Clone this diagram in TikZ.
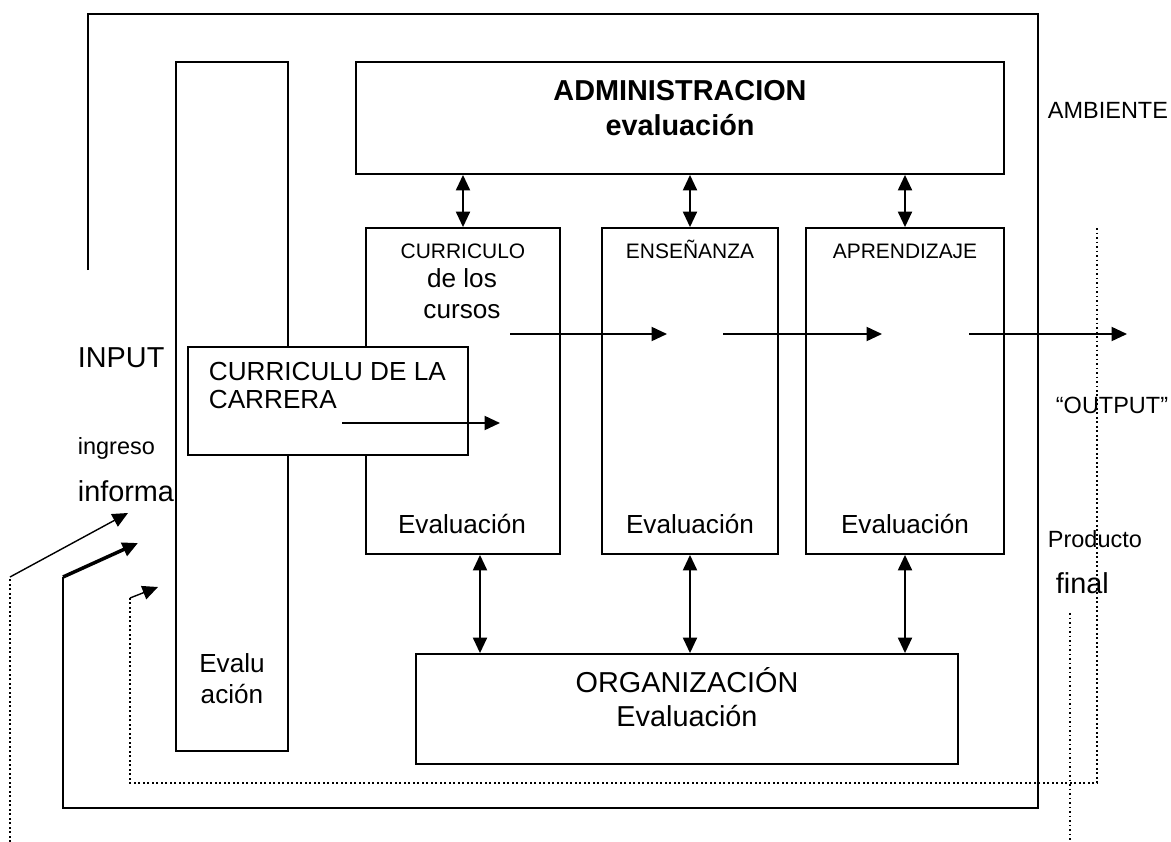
\documentclass[tikz,border=0pt]{standalone}
\usepackage{fontspec}
\setmainfont{Liberation Sans}
\usetikzlibrary{arrows.meta,fit,calc}

\begin{document}
\begin{tikzpicture}[x=0.025cm, y=-0.025cm, line width=1.3pt,
		>={Triangle[length=11pt,width=10pt]},
		box/.style={draw, inner sep=0pt},
		lbl/.style={inner sep=0pt, anchor=base},
		lblw/.style={inner sep=0pt, anchor=base west},
		txtS/.style={font=\fontsize{14.9}{17}\selectfont},
		txtM/.style={font=\fontsize{16.7}{19}\selectfont},
		txtL/.style={font=\fontsize{18.6}{21}\selectfont},
		txtXL/.style={font=\fontsize{20.5}{23}\selectfont},
		txtB/.style={font=\fontsize{20.5}{23}\selectfont\bfseries},
		dots/.style={dotted, line width=1.2pt}]
	\useasboundingbox (0,0) rectangle (1171,842);

	\node[box, fit={(176,62) (288,751)}] (evalcol) {};
	\node[box, fit={(356,62) (1004,174)}] (adm) {};
	\node[box, fit={(366,228) (560,554)}] (cur) {};
	\node[box, fit={(602,228) (778,554)}] (ens) {};
	\node[box, fit={(806,228) (1004,554)}] (apr) {};
	\node[box, fit={(416,654) (958,764)}] (org) {};
	\node[box, fill=white, fit={(188,347) (468,455)}] (car) {};

	\draw[<->] (adm.south -| cur.north) -- (cur.north);
	\draw[<->] (adm.south -| ens.north) -- (ens.north);
	\draw[<->] (adm.south -| apr.north) -- (apr.north);

	\coordinate (cb) at ($(cur.south)+(17,0)$);
	\draw[<->] (cb) -- (org.north -| cb);
	\draw[<->] (ens.south) -- (org.north -| ens.south);
	\draw[<->] (apr.south) -- (org.north -| apr.south);

	\coordinate (h0) at (510,334);
	\coordinate (h1) at (667,334);
	\coordinate (h2) at (723,334);
	\coordinate (h3) at (882,334);
	\coordinate (h4) at (969,334);
	\coordinate (h5) at (1127,334);
	\draw[->] (h0) -- (h1);
	\draw[->] (h2) -- (h3);
	\draw[->] (h4) -- (h5);

	\coordinate (k0) at (342,423);
	\coordinate (k1) at (500,423);
	\draw[->] (k0) -- (k1);

	\draw (88,270) -- (88,14) -- (1038,14) -- (1038,808) -- (63,808) -- (63,577) coordinate (fb);
	\coordinate (in1) at (128,513);
	\coordinate (in2) at (138,543);
	\coordinate (in3) at (158,587);
	\draw[->, line width=2.5pt] (fb) -- (in2);
	\draw[dots] (10,842) -- (10,577) coordinate (ia);
	\draw[->, line width=1pt] (ia) -- (in1);
	\draw[dots] (1097,228) -- (1097,783) -- (130,783) -- (130,598) coordinate (lp);
	\draw[->, line width=1pt] (lp) -- (in3);
	\draw[dots] (1070,613) -- (1070,842);

	\node[lbl, txtB] (admt) at (680,100) {ADMINISTRACION};
	\node[lbl, txtB] (admev) at (680,135) {evaluación};
	\node[lblw, txtM] (amb) at (1047,118) {AMBIENTE};

	\node[lbl, txtS] (curt) at (463,258) {CURRICULO};
	\node[lbl, txtL] (curd) at (462,287) {de los};
	\node[lbl, txtL] (curc) at (462,318) {cursos};
	\node[lbl, txtS] (enst) at (690,258) {ENSEÑANZA};
	\node[lbl, txtS] (aprt) at (905,258) {APRENDIZAJE};

	\node[lbl, txtL] (cure) at (462,533) {Evaluación};
	\node[lbl, txtL] (ense) at (690,533) {Evaluación};
	\node[lbl, txtL] (apre) at (905,533) {Evaluación};

	\node[lblw, txtL] (cart) at (208,380) {CURRICULU DE LA};
	\node[lblw, txtL] (carc) at (208,408) {CARRERA};

	\node[lbl, txtL] (evu) at (232,672) {Evalu};
	\node[lbl, txtL] (eva) at (232,703) {ación};

	\node[lbl, txtXL] (orgt) at (687,692) {ORGANIZACIÓN};
	\node[lbl, txtXL] (orge) at (687,726) {Evaluación};

	\node[lblw, txtXL] (inp) at (77,367) {INPUT};
	\node[lblw, txtM] (ing) at (77,454) {ingreso};
	\node[lblw, txtXL] (inf) at (77,501) {informa};

	\node[lblw, txtM] (outp) at (1055,413) {“OUTPUT”};
	\node[lblw, txtM] (prod) at (1047,547) {Producto};
	\node[lblw, txtXL] (fin) at (1055,593) {final};
\end{tikzpicture}
\end{document}
